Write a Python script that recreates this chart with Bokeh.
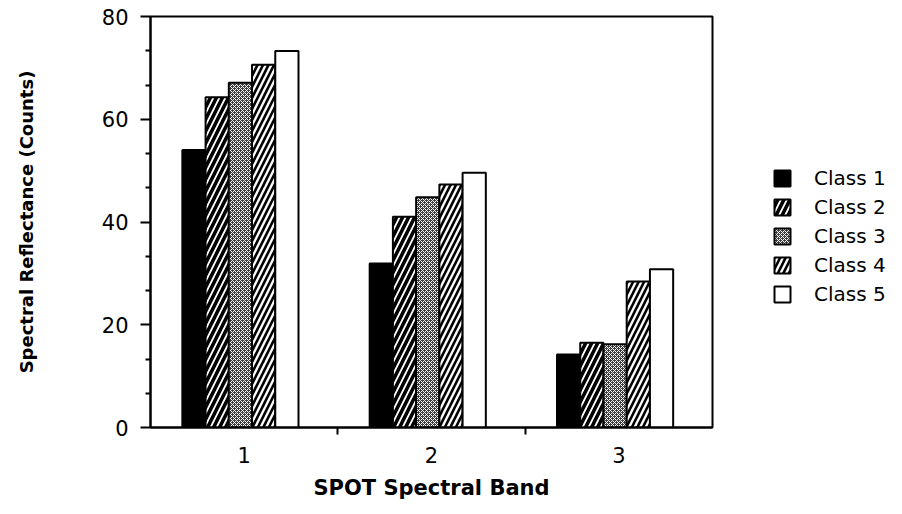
from bokeh.plotting import figure
from bokeh.models import Range1d, FixedTicker, Legend, LegendItem, ColumnDataSource
from bokeh.embed import file_html
from bokeh.resources import INLINE

bands = [1, 2, 3]
band_labels = ["1", "2", "3"]
classes = ["Class 1", "Class 2", "Class 3", "Class 4", "Class 5"]
class1 = [54.0, 31.9, 14.2]
class2 = [64.3, 41.0, 16.5]
class3 = [67.1, 44.8, 16.2]
class4 = [70.6, 47.3, 28.4]
class5 = [73.3, 49.6, 30.8]
series = [class1, class2, class3, class4, class5]
y_ticks = [0, 20, 40, 60, 80]

FONT = "DejaVu Sans"

p = figure(width=888, height=498, output_backend="svg", toolbar_location=None,
           x_range=Range1d(0.5, 3.5), y_range=Range1d(0, 80),
           min_border_left=150, min_border_top=16, min_border_right=176,
           min_border_bottom=71, frame_width=562, frame_height=411)
p.background_fill_color = "white"
p.border_fill_color = "white"
p.outline_line_color = "black"
p.outline_line_width = 2
p.xgrid.visible = False
p.ygrid.visible = False

styles = [
    dict(fill_color="black", hatch_pattern=None),
    dict(fill_color="black", hatch_pattern="/", hatch_color="white", hatch_scale=12, hatch_weight=1.8),
    dict(fill_color="#3c3c3c", hatch_pattern="x", hatch_color="white", hatch_scale=4, hatch_weight=1.0),
    dict(fill_color="white", hatch_pattern="/", hatch_color="black", hatch_scale=11, hatch_weight=2.6),
    dict(fill_color="white", hatch_pattern=None),
]

width = 0.124
items = []
for i, (name, vals) in enumerate(zip(classes, series)):
    off = (i - 2) * width - 0.02
    src = ColumnDataSource(dict(x=[b + off for b in bands], top=vals))
    st = dict(styles[i])
    hp = st.pop("hatch_pattern")
    kw = dict(line_color="black", line_width=2, **st)
    if hp:
        kw["hatch_pattern"] = hp
    r = p.vbar(x="x", top="top", bottom=0, width=width, source=src, **kw)
    items.append(LegendItem(label=name, renderers=[r]))

# axes
xa = p.xaxis[0]
xa.ticker = FixedTicker(ticks=bands, minor_ticks=[1.5, 2.5])
xa.major_label_overrides = {b: l for b, l in zip(bands, band_labels)}
xa.major_tick_out = 0
xa.major_tick_in = 0
xa.minor_tick_out = 7
xa.minor_tick_in = 0
xa.minor_tick_line_width = 2
xa.axis_line_width = 2
xa.major_label_standoff = 12
xa.major_label_text_font = FONT
xa.major_label_text_font_size = "21px"
xa.major_label_text_color = "black"
xa.axis_label = "SPOT Spectral Band"
xa.axis_label_text_font = FONT
xa.axis_label_text_font_size = "21px"
xa.axis_label_text_font_style = "bold"
xa.axis_label_text_color = "black"
xa.axis_label_standoff = 10

ya = p.yaxis[0]
minor = [v + d for v in y_ticks[:-1] for d in (20 / 3, 40 / 3)]
ya.ticker = FixedTicker(ticks=y_ticks, minor_ticks=minor)
ya.major_tick_out = 10
ya.major_tick_in = 0
ya.major_tick_line_width = 2
ya.minor_tick_out = 5
ya.minor_tick_in = 0
ya.minor_tick_line_width = 2
ya.axis_line_width = 2
ya.major_label_standoff = 12
ya.major_label_text_font = FONT
ya.major_label_text_font_size = "21px"
ya.major_label_text_color = "black"
ya.axis_label = "Spectral Reflectance (Counts)"
ya.axis_label_text_font = FONT
ya.axis_label_text_font_size = "18px"
ya.axis_label_text_font_style = "bold"
ya.axis_label_text_color = "black"
ya.axis_label_standoff = 62

legend = Legend(items=items, location=(60, 121), orientation="vertical",
                label_text_font=FONT, label_text_font_size="20px",
                label_text_color="black",
                glyph_width=20, glyph_height=20, label_height=20,
                spacing=5, label_standoff=22,
                border_line_color=None, background_fill_alpha=0, padding=0, margin=0)
p.add_layout(legend, "right")

with open("out.html", "w") as f:
    f.write(file_html(p, INLINE))
